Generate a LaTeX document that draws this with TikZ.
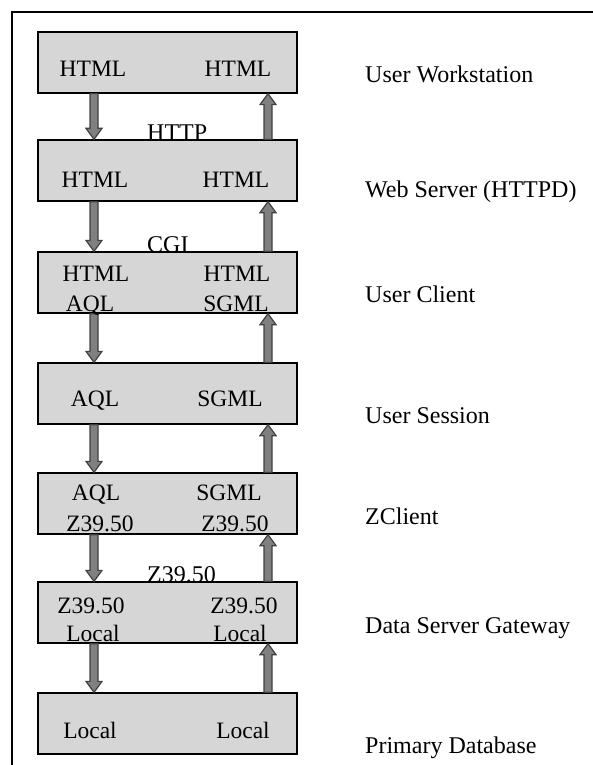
\documentclass[tikz,border=0pt]{standalone}
\usepackage{fontspec}
\setmainfont{Liberation Serif}
\usetikzlibrary{calc}
\begin{document}
\begin{tikzpicture}[x=1pt,y=-1pt,
  box/.style={draw=black,line width=1.3pt,fill=black!16,minimum width=259pt,minimum height=61pt,inner sep=0pt},
  txt/.style={anchor=base,inner sep=0pt,font=\fontsize{23.5}{27}\selectfont},
  lbl/.style={anchor=base west,inner sep=0pt,font=\fontsize{24}{28}\selectfont},
  arr/.style={draw=black!75,line width=1.2pt,fill=black!50,line join=miter}]
\useasboundingbox (0,0) rectangle (593,765);
\draw[line width=2pt] (12,765) -- (12,12) -- (593,12);
\newcommand\fatarr[2]{%
  \coordinate (S) at #1; \coordinate (T) at #2;
  \coordinate (H) at ($(T)!11pt!(S)$);
  \filldraw[arr] ($(S)+(-4,0)$) -- ($(H)+(-4,0)$) -- ($(H)+(-8,0)$) -- (T) -- ($(H)+(8,0)$) -- ($(H)+(4,0)$) -- ($(S)+(4,0)$) -- cycle;}
% boxes
\node[box] (b1) at (167.5,62.5) {};
\node[box] (b2) at (167.5,170.5) {};
\node[box] (b3) at (167.5,282.5) {};
\node[box] (b4) at (167.5,393.5) {};
\node[box] (b5) at (167.5,503.5) {};
\node[box] (b6) at (167.5,612.5) {};
\node[box] (b7) at (167.5,723.5) {};
\coordinate (dl) at (94,0);
\coordinate (ul) at (268,0);
% arrows
\fatarr{(dl |- b1.south)}{(dl |- b2.north)}
\fatarr{(ul |- b2.north)}{(ul |- b1.south)}
\fatarr{(dl |- b2.south)}{(dl |- b3.north)}
\fatarr{(ul |- b3.north)}{(ul |- b2.south)}
\fatarr{(dl |- b3.south)}{(dl |- b4.north)}
\fatarr{(ul |- b4.north)}{(ul |- b3.south)}
\fatarr{(dl |- b4.south)}{(dl |- b5.north)}
\fatarr{(ul |- b5.north)}{(ul |- b4.south)}
\fatarr{(dl |- b5.south)}{(dl |- b6.north)}
\fatarr{(ul |- b6.north)}{(ul |- b5.south)}
\fatarr{(dl |- b6.south)}{(dl |- b7.north)}
\fatarr{(ul |- b7.north)}{(ul |- b6.south)}
% box texts
\node[txt] (t1l) at (93,77) {HTML};
\node[txt] (t1r) at (238,77) {HTML};
\node[txt] (t2l) at (95,187) {HTML};
\node[txt] (t2r) at (236,187) {HTML};
\node[txt] (t3l) at (96,281) {HTML};
\node[txt] (t3r) at (237,281) {HTML};
\node[txt] (t3l2) at (90,311) {AQL};
\node[txt] (t3r2) at (236,311) {SGML};
\node[txt] (t4l) at (95,406) {AQL};
\node[txt] (t4r) at (230,406) {SGML};
\node[txt] (t5l) at (96,500) {AQL};
\node[txt] (t5r) at (229,500) {SGML};
\node[txt] (t5l2) at (100,531) {Z39.50};
\node[txt] (t5r2) at (235,531) {Z39.50};
\node[txt] (t6l) at (91,613) {Z39.50};
\node[txt] (t6r) at (244,613) {Z39.50};
\node[txt] (t6l2) at (93,641) {Local};
\node[txt] (t6r2) at (240,641) {Local};
\node[txt] (t7l) at (90,738) {Local};
\node[txt] (t7r) at (243,738) {Local};
% protocol labels
\node[lbl] (p1) at (147,140) {HTTP};
\node[lbl] (p2) at (147,252) {CGI};
\node[lbl] (p3) at (147,582) {Z39.50};
% layer labels
\node[lbl] (l1) at (365,83) {User Workstation};
\node[lbl] (l2) at (365,197) {Web Server (HTTPD)};
\node[lbl] (l3) at (365,302) {User Client};
\node[lbl] (l4) at (365,423) {User Session};
\node[lbl] (l5) at (365,524) {ZClient};
\node[lbl] (l6) at (365,633) {Data Server Gateway};
\node[lbl] (l7) at (365,753) {Primary Database};
\end{tikzpicture}
\end{document}
